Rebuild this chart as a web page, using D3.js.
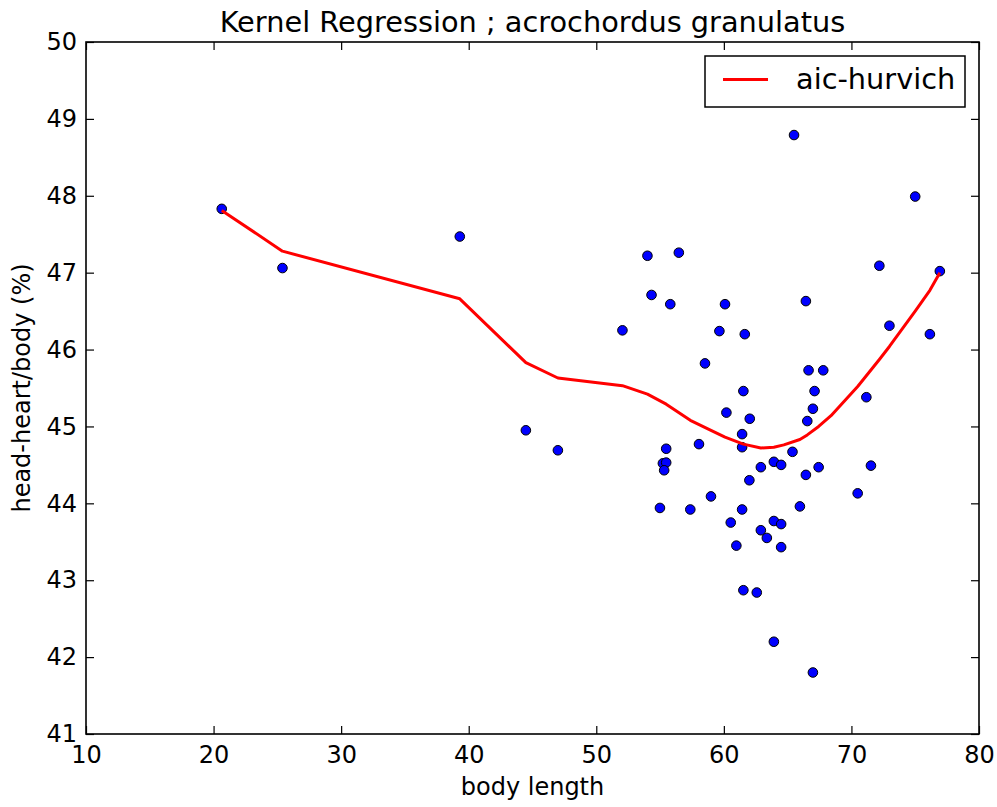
<!DOCTYPE html>
<html>
<head>
<meta charset="utf-8">
<script src="https://cdn.jsdelivr.net/npm/d3@7"></script>
<style>
  html, body { margin: 0; padding: 0; background: #fff; }
  svg { display: block; font-family: "DejaVu Sans", sans-serif; }
</style>
</head>
<body>
<svg id="chart" width="997" height="807"></svg>
<script>
// Observations: body length vs head-heart/body ratio (%)
const bodyLength = [
  20.64, 25.40, 39.30, 44.48, 46.99, 52.05, 54.01, 54.33, 54.99, 55.22,
  55.48, 55.32, 55.48, 55.80, 56.47, 57.37, 58.05, 58.52, 58.99, 59.65,
  60.09, 60.20, 60.54, 60.98, 61.43, 61.43, 61.43, 61.53, 61.64, 61.53,
  62.00, 62.03, 62.58, 62.90, 62.90, 63.37, 63.92, 63.92, 63.92, 64.49,
  64.49, 64.49, 65.38, 65.50, 65.96, 66.43, 66.43, 66.54, 66.64, 66.98,
  67.11, 66.98, 67.43, 67.79, 70.49, 71.17, 71.53, 72.19, 72.98, 75.00,
  76.15, 76.93
];
const headHeart = [
  47.83, 47.06, 47.47, 44.95, 44.69, 46.25, 47.22, 46.71, 43.94, 44.52,
  44.53, 44.43, 44.71, 46.59, 47.26, 43.92, 44.77, 45.82, 44.09, 46.24,
  46.59, 45.18, 43.75, 43.45, 44.90, 44.73, 43.92, 45.46, 46.20, 42.87,
  44.30, 45.10, 42.84, 44.47, 43.65, 43.55, 44.54, 43.77, 42.20, 44.50,
  43.73, 43.43, 44.67, 48.79, 43.96, 46.63, 44.37, 45.07, 45.73, 45.23,
  45.46, 41.80, 44.47, 45.73, 44.13, 45.38, 44.49, 47.09, 46.31, 47.99,
  46.20, 47.02
];

// Kernel regression fit (aic-hurvich bandwidth)
const fitX = [
  20.64, 25.40, 39.30, 44.48, 46.99, 52.05, 54.01, 55.48, 57.37, 58.99,
  60.09, 61.53, 62.90, 63.92, 64.70, 65.96, 66.54, 67.43, 68.40, 70.49,
  72.19, 72.98, 75.00, 76.15, 76.93
];
const fitY = [
  47.81, 47.28, 46.66, 45.83, 45.63, 45.53, 45.42, 45.29, 45.08, 44.95,
  44.86, 44.77, 44.72, 44.73, 44.76, 44.83, 44.89, 45.00, 45.14, 45.52,
  45.87, 46.04, 46.50, 46.77, 47.00
];

const xTicks = [10, 20, 30, 40, 50, 60, 70, 80];
const yTicks = [41, 42, 43, 44, 45, 46, 47, 48, 49, 50];
const titleText = "Kernel Regression ; acrochordus granulatus";
const xLabel = "body length";
const yLabel = "head-heart/body (%)";
const seriesName = "aic-hurvich";

const svg = d3.select("#chart");
const plot = { left: 86, right: 979, top: 42, bottom: 734 };

const x = d3.scaleLinear().domain([10, 80]).range([plot.left, plot.right]);
const y = d3.scaleLinear().domain([41, 50]).range([plot.bottom, plot.top]);

const tickLen = 8;
const baseFont = 24;
const largeFont = 28.8;

// Axes with inward ticks on all four sides
const axisBottom = d3.axisBottom(x).tickValues(xTicks).tickSizeInner(-tickLen).tickSizeOuter(0).tickPadding(12).tickFormat(d3.format("d"));
const axisTop = d3.axisTop(x).tickValues(xTicks).tickSizeInner(-tickLen).tickSizeOuter(0).tickFormat("");
const axisLeft = d3.axisLeft(y).tickValues(yTicks).tickSizeInner(-tickLen).tickSizeOuter(0).tickPadding(9).tickFormat(d3.format("d"));
const axisRight = d3.axisRight(y).tickValues(yTicks).tickSizeInner(-tickLen).tickSizeOuter(0).tickFormat("");

function styleAxis(g) {
  g.select(".domain").remove();
  g.selectAll(".tick line").attr("stroke", "#000").attr("stroke-width", 1.2);
  g.selectAll(".tick text").attr("fill", "#000").attr("font-size", baseFont).attr("font-family", "DejaVu Sans");
}

svg.append("g").attr("transform", `translate(0,${plot.bottom})`).call(axisBottom).call(styleAxis);
svg.append("g").attr("transform", `translate(0,${plot.top})`).call(axisTop).call(styleAxis);
svg.append("g").attr("transform", `translate(${plot.left},0)`).call(axisLeft).call(styleAxis)
  .selectAll(".tick text").attr("dy", "0.32em");
svg.append("g").attr("transform", `translate(${plot.right},0)`).call(axisRight).call(styleAxis);

// Observations as blue dots with dark edges
const points = bodyLength.map((v, i) => [v, headHeart[i]]);
svg.append("g").selectAll("circle").data(points).join("circle")
  .attr("cx", d => x(d[0]))
  .attr("cy", d => y(d[1]))
  .attr("r", 4.8)
  .attr("fill", "#0000ff")
  .attr("stroke", "#000")
  .attr("stroke-width", 1);

// Fitted curve
const fit = fitX.map((v, i) => [v, fitY[i]]);
const line = d3.line().x(d => x(d[0])).y(d => y(d[1]));
svg.append("path").datum(fit)
  .attr("d", line)
  .attr("fill", "none")
  .attr("stroke", "#ff0000")
  .attr("stroke-width", 3)
  .attr("stroke-linejoin", "round");

// Frame
svg.append("rect")
  .attr("x", plot.left).attr("y", plot.top)
  .attr("width", plot.right - plot.left).attr("height", plot.bottom - plot.top)
  .attr("fill", "none").attr("stroke", "#000").attr("stroke-width", 1.6);

// Title and axis labels
svg.append("text")
  .attr("x", (plot.left + plot.right) / 2).attr("y", 32)
  .attr("text-anchor", "middle").attr("font-size", largeFont).attr("fill", "#000")
  .text(titleText);

svg.append("text")
  .attr("x", (plot.left + plot.right) / 2).attr("y", 795)
  .attr("text-anchor", "middle").attr("font-size", baseFont).attr("fill", "#000")
  .text(xLabel);

svg.append("text")
  .attr("transform", `translate(30,${(plot.top + plot.bottom) / 2}) rotate(-90)`)
  .attr("text-anchor", "middle").attr("font-size", baseFont).attr("fill", "#000")
  .text(yLabel);

// Legend
const legend = svg.append("g");
legend.append("rect")
  .attr("x", 705).attr("y", 56).attr("width", 260).attr("height", 51)
  .attr("fill", "#fff").attr("stroke", "#000").attr("stroke-width", 1.5);
legend.append("line")
  .attr("x1", 723).attr("x2", 768).attr("y1", 79.5).attr("y2", 79.5)
  .attr("stroke", "#ff0000").attr("stroke-width", 3);
legend.append("text")
  .attr("x", 796).attr("y", 89)
  .attr("font-size", largeFont).attr("fill", "#000")
  .text(seriesName);
</script>
</body>
</html>
